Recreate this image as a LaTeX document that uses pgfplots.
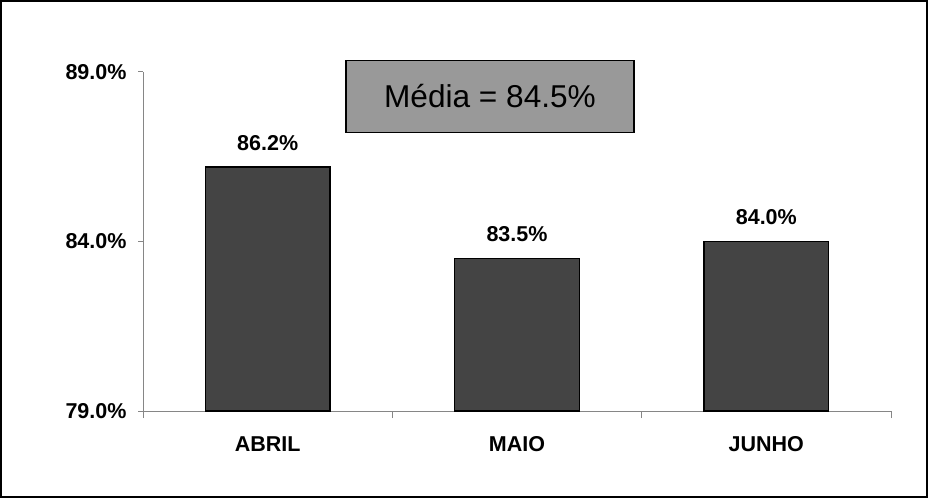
\documentclass[border=0pt]{standalone}
\usepackage{pgfplots}
\pgfplotsset{compat=1.18}
\usepackage{fontspec}
\setmainfont{Liberation Sans}
\definecolor{barfill}{HTML}{444444}
\definecolor{boxgray}{HTML}{999999}
\definecolor{axgray}{HTML}{868686}
\begin{document}
\begin{tikzpicture}[x=1pt,y=1pt]
\draw[line width=2pt] (1,1) rectangle (927,497);
\begin{axis}[
  at={(143pt,87pt)}, anchor=south west,
  scale only axis, width=748pt, height=339pt,
  xmin=-0.5, xmax=2.5, ymin=79, ymax=89,
  ytick={79,84,89}, yticklabels={79.0\%,84.0\%,89.0\%},
  xtick={0,1,2}, xticklabels={ABRIL,MAIO,JUNHO},
  axis x line*=bottom, axis y line*=left,
  axis line style={draw=axgray, line width=1pt},
  tick align=outside, major tick length=5pt,
  y tick style={draw=axgray, line width=1pt},
  x tick style={draw=none},
  extra x ticks={-0.5,0.5,1.5,2.5}, extra x tick labels={},
  extra x tick style={x tick style={draw=axgray, line width=1pt}, major tick length=7pt},
  ticklabel style={font=\fontsize{21.5}{25}\selectfont\bfseries},
  yticklabel style={xshift=-8pt},
  xticklabel style={yshift=-17pt},
  ybar, bar width=0.5,
  /pgf/number format/assume math mode=true,
  nodes near coords={\pgfmathprintnumber[fixed,fixed zerofill,precision=1,assume math mode=true]{\pgfplotspointmeta}\%},
  nodes near coords style={font=\fontsize{21.5}{25}\selectfont\bfseries, anchor=center, yshift=24pt, text=black},
]
\addplot[fill=barfill, draw=black, line width=1.5pt] coordinates {(0,86.2) (1,83.5) (2,84.0)};
\end{axis}
\node[draw=black, line width=1.5pt, fill=boxgray, minimum width=288pt, minimum height=72pt, inner sep=0pt, font=\fontsize{31.6}{36}\selectfont] at (490,401.5) {Média = 84.5\%};
\end{tikzpicture}
\end{document}
